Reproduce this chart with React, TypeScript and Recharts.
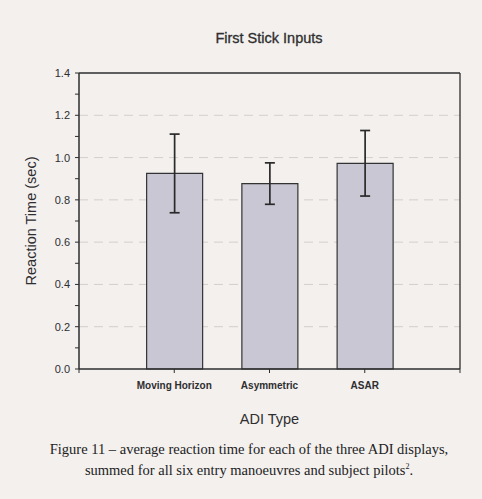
import React from 'react';
import { ComposedChart, Bar, XAxis, YAxis, CartesianGrid, ErrorBar, ReferenceLine } from 'recharts';

const categories = ['Moving Horizon', 'Asymmetric', 'ASAR'];
const meanTimes = [0.925, 0.877, 0.973];
const errors = [0.186, 0.098, 0.155];
const yTicks = [0, 0.1, 0.2, 0.3, 0.4, 0.5, 0.6, 0.7, 0.8, 0.9, 1.0, 1.1, 1.2, 1.3, 1.4];
const gridValues = [0.2, 0.4, 0.6, 0.8, 1.0, 1.2];
const xTicks = [0, 1, 2, 3, 4];
const yMax = 1.4;
const xMax = 4;

const data = categories.map((name, i) => ({ pos: i + 1, name, mean: meanTimes[i], err: errors[i] }));

const BG = '#f3f0ee';
const INK = '#2e2e2e';
const SANS = 'Liberation Sans, Arial, sans-serif';

const YTick = (props: any) => {
  const { x, y, payload } = props;
  const v = Math.round(payload.value * 10);
  if (v % 2 !== 0) return null;
  return (
    <text x={x} y={y} dy={4} textAnchor="end" fontSize={11} fill={INK} fontFamily={SANS}>
      {payload.value.toFixed(1)}
    </text>
  );
};

const XTick = (props: any) => {
  const { x, y, payload } = props;
  const label = categories[payload.value - 1];
  if (!label) return null;
  return (
    <text x={x} y={y} dy={13} textAnchor="middle" fontSize={10} fontWeight="bold" fill={INK} fontFamily={SANS}>
      {label}
    </text>
  );
};

export default function App() {
  return (
    <div style={{ position: 'absolute', left: 0, top: 0, width: 482, height: 499, background: BG, overflow: 'hidden' }}>
      <div style={{ position: 'absolute', left: 0, top: 30, width: 538, textAlign: 'center', fontFamily: SANS, fontSize: 14.5, color: INK, WebkitTextStroke: '0.3px #2e2e2e' }}>
        First Stick Inputs
      </div>
      <ComposedChart
        width={482}
        height={430}
        data={data}
        margin={{ top: 73, right: 22, left: 39, bottom: 31 }}
        style={{ position: 'absolute', left: 0, top: 0 }}
      >
        <CartesianGrid horizontal vertical={false} horizontalValues={gridValues} stroke="#d3cfcd" strokeDasharray="9 6" />
        <XAxis
          dataKey="pos"
          type="number"
          domain={[0, xMax]}
          ticks={xTicks}
          interval={0}
          tick={<XTick />}
          tickSize={4}
          tickMargin={3}
          height={30}
          stroke={INK}
          tickLine={{ stroke: INK }}
          axisLine={{ stroke: INK, strokeWidth: 1.5 }}
          label={{ value: 'ADI Type', position: 'insideBottom', offset: -25, fontSize: 14.5, fill: INK, fontFamily: SANS }}
        />
        <YAxis
          type="number"
          domain={[0, yMax]}
          ticks={yTicks}
          interval={0}
          width={40}
          tick={<YTick />}
          tickSize={4}
          tickMargin={5}
          tickLine={{ stroke: INK }}
          axisLine={{ stroke: INK, strokeWidth: 1.5 }}
          label={{ value: 'Reaction Time (sec)', angle: -90, position: 'insideLeft', offset: -8, style: { textAnchor: 'middle' }, fontSize: 14.5, fill: INK, fontFamily: SANS }}
        />
        <ReferenceLine y={yMax} stroke={INK} strokeWidth={1.3} ifOverflow="visible" />
        <ReferenceLine x={xMax} stroke={INK} strokeWidth={1.3} ifOverflow="visible" />
        <Bar dataKey="mean" barSize={56} fill="#c9c7d3" stroke="#333" strokeWidth={1.2} isAnimationActive={false}>
          <ErrorBar dataKey="err" width={5} stroke="#2a2a2a" strokeWidth={1.7} direction="y" />
        </Bar>
      </ComposedChart>
      <div style={{ position: 'absolute', left: 0, top: 440, width: 498, textAlign: 'center', fontFamily: 'Liberation Serif, Times New Roman, serif', fontSize: 14.5, lineHeight: '18px', color: '#222' }}>
        Figure 11 – average reaction time for each of the three ADI displays,<br />
        summed for all six entry manoeuvres and subject pilots<sup style={{ fontSize: 8 }}>2</sup>.
      </div>
    </div>
  );
}
